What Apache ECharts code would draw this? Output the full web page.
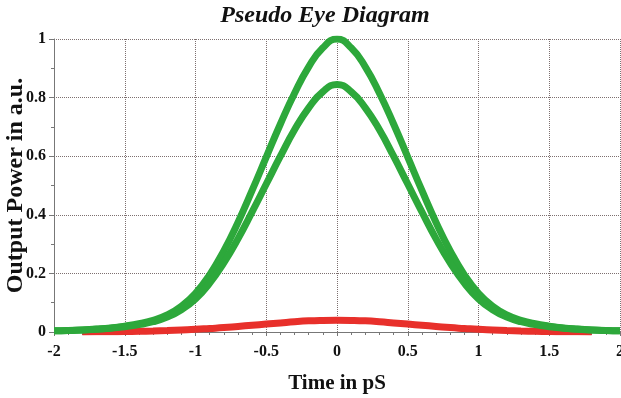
<!DOCTYPE html>
<html>
<head>
<meta charset="utf-8">
<script src="https://cdn.jsdelivr.net/npm/echarts@6/dist/echarts.min.js"></script>
<style>
html,body{margin:0;padding:0;background:#fff;}
#chart{width:621px;height:398px;}
</style>
</head>
<body>
<div id="chart"></div>
<script>
var timePs = [-2,-1.9,-1.8,-1.7,-1.6,-1.5,-1.4,-1.3,-1.2,-1.1,-1,-0.9,-0.8,-0.7,-0.6,-0.5,-0.4,-0.3,-0.2,-0.1,0,0.1,0.2,0.3,0.4,0.5,0.6,0.7,0.8,0.9,1,1.1,1.2,1.3,1.4,1.5,1.6,1.7,1.8,1.9,2];
var upperPulse = [0.004,0.005,0.007,0.010,0.014,0.020,0.028,0.040,0.058,0.088,0.132,0.195,0.277,0.374,0.483,0.597,0.71,0.815,0.905,0.97,1.00,0.97,0.905,0.815,0.71,0.597,0.483,0.374,0.277,0.195,0.132,0.088,0.058,0.040,0.028,0.020,0.014,0.010,0.007,0.005,0.004];
var middlePulse = [0.004,0.005,0.007,0.009,0.013,0.018,0.025,0.035,0.051,0.076,0.113,0.167,0.236,0.318,0.41,0.505,0.60,0.69,0.765,0.82,0.845,0.82,0.765,0.69,0.60,0.505,0.41,0.318,0.236,0.167,0.113,0.076,0.051,0.035,0.025,0.018,0.013,0.009,0.007,0.005,0.004];
var lowPulse = [null,null,0.0,0.0005,0.001,0.0015,0.0025,0.0035,0.005,0.007,0.009,0.012,0.015,0.019,0.023,0.027,0.031,0.035,0.038,0.0395,0.040,0.0395,0.038,0.035,0.031,0.027,0.023,0.019,0.015,0.012,0.009,0.007,0.005,0.0035,0.0025,0.0015,0.001,0.0005,0.0,null,null];

function pairs(xs, ys){ var out=[]; for(var i=0;i<xs.length;i++){ if(ys[i]!==null) out.push([xs[i], ys[i]]); } return out; }

var serif = '"Liberation Serif", "DejaVu Serif", serif';
var chart = echarts.init(document.getElementById('chart'));
chart.setOption({
  animation:false,
  backgroundColor:'#ffffff',
  title:{
    text:'Pseudo Eye Diagram',
    left:320, top:-1, textAlign:'center',
    textStyle:{fontFamily:serif, fontStyle:'italic', fontWeight:'bold', fontSize:24, color:'#111'}
  },
  grid:{left:54, right:1, top:39, bottom:66, outerBoundsMode:'none', containLabel:false},
  xAxis:{
    type:'value', min:-2, max:2, interval:0.5,
    name:'Time in pS', nameLocation:'middle', nameGap:41,
    nameTextStyle:{fontFamily:serif, fontWeight:'bold', fontSize:21, color:'#111'},
    axisLine:{show:true, onZero:false, lineStyle:{color:'#777', width:1}},
    axisTick:{show:true, length:4, lineStyle:{color:'#777'}},
    minorTick:{show:true, splitNumber:5, length:3, lineStyle:{color:'#777'}},
    axisLabel:{fontFamily:serif, fontWeight:'bold', fontSize:16, color:'#111', margin:12,
      formatter:function(v){ return String(v); }},
    splitLine:{show:true, lineStyle:{color:'#7d7070', type:'dotted', width:1}}
  },
  yAxis:{
    type:'value', min:0, max:1, interval:0.2,
    name:'Output Power in a.u.', nameLocation:'middle', nameGap:26, nameMoveOverlap:false,
    nameTextStyle:{fontFamily:serif, fontWeight:'bold', fontSize:24, color:'#111'},
    axisLine:{show:true, onZero:false, lineStyle:{color:'#777', width:1}},
    axisTick:{show:true, length:5, lineStyle:{color:'#777'}},
    minorTick:{show:true, splitNumber:2, length:3, lineStyle:{color:'#777'}},
    axisLabel:{fontFamily:serif, fontWeight:'bold', fontSize:16, color:'#111', margin:8,
      formatter:function(v){ return String(v); }},
    splitLine:{show:true, lineStyle:{color:'#7d7070', type:'dotted', width:1}}
  },
  series:[
    {type:'line', data:pairs(timePs, upperPulse), smooth:true, showSymbol:false,
      lineStyle:{color:'#2da83b', width:7}, z:3},
    {type:'line', data:pairs(timePs, middlePulse), smooth:true, showSymbol:false,
      lineStyle:{color:'#2da83b', width:7}, z:3},
    {type:'line', data:pairs(timePs, lowPulse), smooth:true, showSymbol:false,
      lineStyle:{color:'#e8302b', width:7}, z:2}
  ]
});
</script>
</body>
</html>
